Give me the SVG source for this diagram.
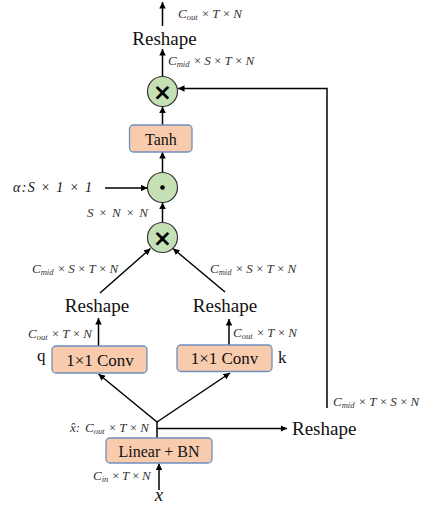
<svg xmlns="http://www.w3.org/2000/svg" width="422" height="510" viewBox="0 0 422 510">
<defs>
<marker id="ah" viewBox="0 0 10 10" refX="10" refY="5" markerWidth="6.5" markerHeight="6.5" markerUnits="userSpaceOnUse" orient="auto">
<path d="M0,0 L10,5 L0,10 z" fill="#000"/>
</marker>
<style>
.box{fill:#F8CBAD;stroke:#6F8FC0;stroke-width:1.3}
.circ{fill:#C5E0B4;stroke:#333;stroke-width:1.2}
.ln{stroke:#000;stroke-width:1.5;fill:none}
.ar{marker-end:url(#ah)}
.big{font-family:"Liberation Serif",serif;font-size:19px;fill:#111}
.bt{font-family:"Liberation Serif",serif;font-size:17px;fill:#111;text-anchor:middle}
.lab{font-family:"Liberation Serif",serif;font-style:italic;font-size:13px;fill:#333}
.sub{font-size:8.5px}
.mul{font-family:"DejaVu Sans",sans-serif;font-weight:bold;font-size:23px;fill:#000;text-anchor:middle}
</style>
</defs>
<g id="connectors">
<line class="ln ar" x1="162.5" y1="26" x2="162.5" y2="2"/>
<line class="ln ar" x1="162.5" y1="76.5" x2="162.5" y2="49"/>
<line class="ln ar" x1="162.5" y1="125" x2="162.5" y2="106.5"/>
<line class="ln ar" x1="162.5" y1="172.5" x2="162.5" y2="152"/>
<line class="ln ar" x1="162.5" y1="222.5" x2="162.5" y2="202.5"/>
<line class="ln ar" x1="105" y1="188" x2="147.5" y2="188"/>
<line class="ln ar" x1="100" y1="293" x2="150.5" y2="248.5"/>
<line class="ln ar" x1="225" y1="292" x2="173" y2="248.5"/>
<line class="ln ar" x1="98.5" y1="346" x2="98.5" y2="318"/>
<line class="ln ar" x1="229" y1="345" x2="229" y2="319"/>
<line class="ln ar" x1="157" y1="422" x2="98.5" y2="374"/>
<line class="ln ar" x1="157" y1="422" x2="230" y2="373"/>
<line class="ln" x1="157" y1="438" x2="157" y2="421"/>
<line class="ln ar" x1="157" y1="428.5" x2="287" y2="428.5"/>
<line class="ln ar" x1="159" y1="490" x2="159" y2="463.5"/>
<polyline class="ln ar" points="327,408 327,88.5 178,88.5"/>
</g>
<g id="out-label">
<text class="lab" x="178" y="18">C<tspan class="sub" dy="2">out</tspan><tspan dy="-2" dx="3.5 2.5 2.5 2.5">×T×N</tspan></text>
</g>
<g id="reshape-top"><text class="big" x="164.5" y="45" text-anchor="middle">Reshape</text></g>
<g id="label-top-mid"><text class="lab" x="168" y="65">C<tspan class="sub" dy="2">mid</tspan><tspan dy="-2" dx="3.5 2.5 2.5 2.5 2.5 2.5">×S×T×N</tspan></text></g>
<g id="mul-top">
<circle class="circ" cx="162.5" cy="91.5" r="15"/>
<text class="mul" x="162.5" y="99.5">×</text>
</g>
<g id="tanh">
<rect class="box" x="129.5" y="125" width="62.5" height="27" rx="4"/>
<text class="bt" x="161" y="144.5" style="font-size:16px">Tanh</text>
</g>
<g id="dot">
<circle class="circ" cx="162.5" cy="187.5" r="15"/>
<circle cx="162.5" cy="187.5" r="2.3" fill="#000"/>
</g>
<g id="alpha"><text class="lab" x="13" y="192" textLength="79" lengthAdjust="spacing" style="font-size:14px;fill:#111">α:S × 1 × 1</text></g>
<g id="snn"><text class="lab" x="87" y="217" textLength="61" lengthAdjust="spacing" style="font-size:13px">S×N×N</text></g>
<g id="mul-mid">
<circle class="circ" cx="162.5" cy="237.5" r="15"/>
<text class="mul" x="162.5" y="245.5">×</text>
</g>
<g id="label-left-mid"><text class="lab" x="32" y="273">C<tspan class="sub" dy="2">mid</tspan><tspan dy="-2" dx="3.5 2.5 2.5 2.5 2.5 2.5">×S×T×N</tspan></text></g>
<g id="label-right-mid"><text class="lab" x="210" y="273">C<tspan class="sub" dy="2">mid</tspan><tspan dy="-2" dx="3.5 2.5 2.5 2.5 2.5 2.5">×S×T×N</tspan></text></g>
<g id="reshape-left"><text class="big" x="97" y="312" text-anchor="middle">Reshape</text></g>
<g id="reshape-right"><text class="big" x="225" y="312" text-anchor="middle">Reshape</text></g>
<g id="label-left-out"><text class="lab" x="28" y="338">C<tspan class="sub" dy="2">out</tspan><tspan dy="-2" dx="3.5 2.5 2.5 2.5">×T×N</tspan></text></g>
<g id="label-right-out"><text class="lab" x="233" y="337">C<tspan class="sub" dy="2">out</tspan><tspan dy="-2" dx="3.5 2.5 2.5 2.5">×T×N</tspan></text></g>
<g id="conv-q">
<rect class="box" x="52" y="346" width="95" height="27" rx="4"/>
<text class="bt" x="100" y="365.5">1×1 Conv</text>
<text class="big" x="37" y="361" style="font-size:17px">q</text>
</g>
<g id="conv-k">
<rect class="box" x="177" y="345" width="95" height="26.5" rx="4"/>
<text class="bt" x="224.5" y="364">1×1 Conv</text>
<text class="big" x="278" y="363" style="font-size:17px">k</text>
</g>
<g id="label-right-tsn"><text class="lab" x="333" y="406">C<tspan class="sub" dy="2">mid</tspan><tspan dy="-2" dx="3.5 2.5 2.5 2.5 2.5 2.5">×T×S×N</tspan></text></g>
<g id="reshape-bottom"><text class="big" x="292" y="435">Reshape</text></g>
<g id="label-xhat"><text class="lab" x="70" y="432">x̂:<tspan x="85">C</tspan><tspan class="sub" dy="2">out</tspan><tspan dy="-2" dx="3.5 2.5 2.5 2.5">×T×N</tspan></text></g>
<g id="linear-bn">
<rect class="box" x="106" y="438" width="106" height="25" rx="4"/>
<text class="bt" x="159" y="457" style="font-size:16px">Linear + BN</text>
</g>
<g id="label-in"><text class="lab" x="93" y="480">C<tspan class="sub" dy="2">in</tspan><tspan dy="-2" dx="3 2 2 2">×T×N</tspan></text></g>
<g id="input-x"><text class="lab" x="159" y="501" text-anchor="middle" style="font-size:19px;fill:#111">x</text></g>
</svg>
